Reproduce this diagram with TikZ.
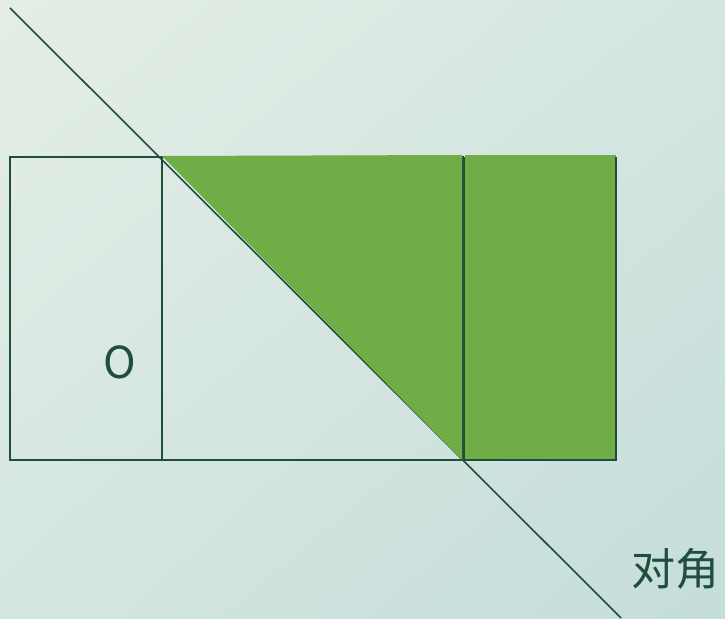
\documentclass[tikz,border=0pt]{standalone}
\usepackage{fontspec}
\usetikzlibrary{shadings}
\newfontfamily\cjk{Noto Sans CJK SC}
\definecolor{leaf}{HTML}{70AD47}
\definecolor{ink}{HTML}{1F4E3D}
\definecolor{bgtop}{HTML}{E4EEE5}
\definecolor{bgmid}{HTML}{D4E6E0}
\definecolor{bgbot}{HTML}{C5DDDB}

\begin{document}
\begin{tikzpicture}[x=1pt,y=-1pt,
  edge/.style={ink,line width=1.6pt},
  label/.style={ink,font=\cjk\fontsize{44}{44}\selectfont,inner sep=0pt}]
\shade[upper left=bgtop,upper right=bgmid,lower left=bgmid,lower right=bgbot] (0,0) rectangle (725,618);
\useasboundingbox (0,0) rectangle (725,618);

% corners of the three boxes
\coordinate (tl) at (10,157);
\coordinate (bl) at (10,460);
\coordinate (tm) at (162,157);
\coordinate (bm) at (162,460);
\coordinate (tr) at (463,157);
\coordinate (br) at (463,460);
\coordinate (te) at (616,157);
\coordinate (be) at (616,460);
\coordinate (start) at (10,8);
\coordinate (stop) at (621,618);

 \draw[edge] (start)--(stop);
 \draw[edge] (tl) rectangle (bm);
 \draw[edge] (tm) rectangle (br);

 \fill[leaf] ([yshift=1pt]tm)--([xshift=-1pt,yshift=2pt]tr)--([xshift=-1pt]br)--cycle;
 \fill[leaf] ([xshift=2pt,yshift=2pt]tr) rectangle (be);
 \draw[edge] ([xshift=1.5pt]tr)--([xshift=1.5pt]br)--(be)--(te);

 \node[label] (o) at (120,362) {O};
 \node[label] (diag) at (675,569) {对角};
 \end{tikzpicture}
\end{document}
